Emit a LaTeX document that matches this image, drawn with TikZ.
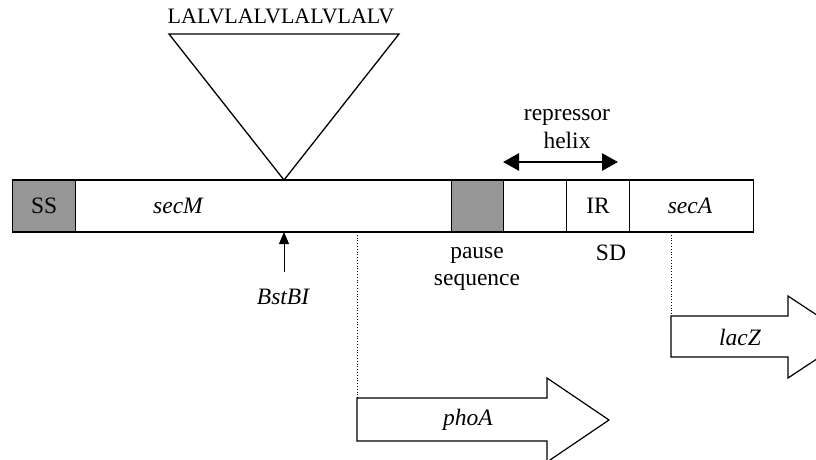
\documentclass[tikz,border=0pt]{standalone}
\usepackage{fontspec}
\setmainfont{Liberation Serif}
\usetikzlibrary{arrows.meta}
\definecolor{boxgray}{RGB}{150,150,150}
\tikzset{
  seg/.style={draw, line width=1.3pt, inner sep=0pt, minimum height=52pt, anchor=west},
  lbl/.style={inner sep=0pt, font=\fontsize{23.5}{27}\selectfont},
  genearrow/.style={draw, line width=1.2pt, fill=white, line join=miter},
  guide/.style={line width=0.8pt, dotted},
}
\begin{document}
\begin{tikzpicture}[x=1pt,y=-1pt]
\useasboundingbox (0,0) rectangle (816,459);
\clip (0,0) rectangle (816,459);

% construct bar
\node[seg, fill=boxgray, minimum width=63pt] (ss) at (12,206) {};
\node[seg, minimum width=376pt] (secm) at (75,206) {};
\node[seg, fill=boxgray, minimum width=52pt] (pause) at (451,206) {};
\node[seg, minimum width=63pt] (gap) at (503,206) {};
\node[seg, minimum width=63pt] (ir) at (566,206) {};
\node[seg, minimum width=124pt] (seca) at (629,206) {};

\node[lbl] at (ss.center) {SS};
\node[lbl] at (178,206) {\itshape secM};
\node[lbl] at (ir.center) {IR};
\node[lbl] at (690,206) {\itshape secA};

% insertion triangle
\coordinate (ins) at (284,180);
\draw[line width=1.3pt, line join=miter] (169,34) -- (399,34) -- (ins) -- cycle;
\node[lbl, font=\fontsize{22}{26}\selectfont] (pep) at (281,16) {LALVLALVLALVLALV};

% restriction site
\node[lbl] (bst) at (283,297) {\itshape BstBI};
\coordinate (bstfoot) at (284,272);
\draw[line width=1pt, -{Triangle[length=12pt,width=10pt]}] (bstfoot) -- (284,232);

% repressor helix
\node[lbl, align=center, text width=120pt] (rep) at (567,129) {repressor\\[1pt]helix};
\coordinate (hl) at (503,162);
\coordinate (hr) at (618,162);
\draw[line width=2.6pt, {Triangle[length=16pt,width=17pt]}-{Triangle[length=16pt,width=17pt]}] (hl) -- (hr);

% labels below bar
\node[lbl, align=center] (pauselbl) at (477,269) {pause\\sequence};
\node[lbl] (sd) at (611,253) {SD};

% phoA fusion
\coordinate (phoJ) at (357,232);
\coordinate (phoS) at (357,398);
\draw[guide] (phoJ) -- (phoS);
\draw[genearrow] (357,398) -- (547,398) -- (547,378) -- (609,420) -- (547,462) -- (547,441) -- (357,441) -- cycle;
\node[lbl] (pho) at (468,420) {\itshape phoA};

% lacZ fusion
\coordinate (lacJ) at (671,232);
\coordinate (lacS) at (671,316);
\draw[guide] (lacJ) -- (lacS);
\draw[genearrow] (671,316) -- (788,316) -- (788,296) -- (850,337) -- (788,378) -- (788,357) -- (671,357) -- cycle;
\node[lbl] (lac) at (740,337) {\itshape lacZ};
\end{tikzpicture}
\end{document}
